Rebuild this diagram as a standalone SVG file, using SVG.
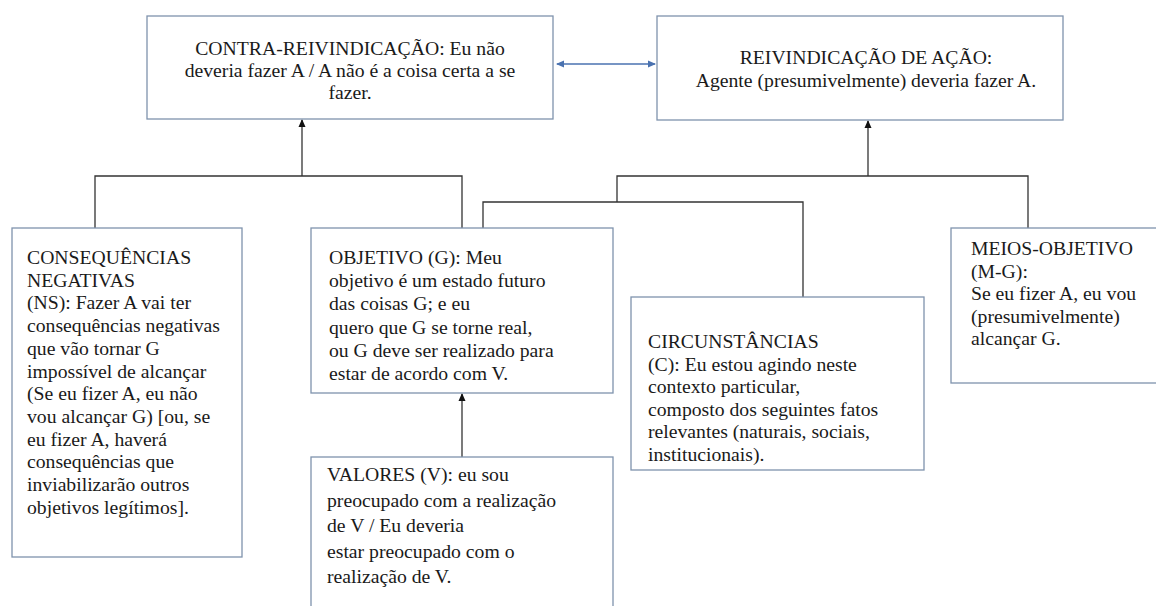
<svg xmlns="http://www.w3.org/2000/svg" width="1156" height="606" viewBox="0 0 1156 606">
<style>
.box{fill:#fff;stroke:#7f93ad;stroke-width:1.3}
.t{font-family:"Liberation Serif","Times New Roman",serif;font-size:19.7px;fill:#1a1a1a}
.c{text-anchor:middle}
.ln{fill:none;stroke:#333;stroke-width:1.3}
.bl{fill:none;stroke:#4a72b0;stroke-width:1.3}
</style>
<defs>
<marker id="ah" markerWidth="8" markerHeight="8" refX="7" refY="4" orient="auto" markerUnits="userSpaceOnUse"><path d="M0,0.5 L8,4 L0,7.5 Z" fill="#111"/></marker>
<marker id="bh" markerWidth="8" markerHeight="8" refX="7" refY="4" orient="auto-start-reverse" markerUnits="userSpaceOnUse"><path d="M0,0.5 L8,4 L0,7.5 Z" fill="#4a72b0"/></marker>
</defs>
<rect width="1156" height="606" fill="#fff"/>
<g id="connectors">
<path class="bl" d="M557,64 H655" marker-start="url(#bh)" marker-end="url(#bh)"/>
<path class="ln" d="M95,228 V176 H462 V228"/>
<path class="ln" d="M302,176 V120" marker-end="url(#ah)"/>
<path class="ln" d="M868,176 V121" marker-end="url(#ah)"/>
<path class="ln" d="M617,202 V176 H1028 V228"/>
<path class="ln" d="M483,228 V202 H803 V297"/>
<path class="ln" d="M462,457 V394" marker-end="url(#ah)"/>
</g>
<g id="contra">
<rect class="box" x="147" y="16" width="406" height="103"/>
<text class="t c" x="350" y="55">CONTRA-REIVINDICAÇÃO: Eu não</text>
<text class="t c" x="350" y="77">deveria fazer A / A não é a coisa certa a se</text>
<text class="t c" x="350" y="99">fazer.</text>
</g>
<g id="reivindicacao">
<rect class="box" x="657" y="16" width="406" height="104"/>
<text class="t c" x="866" y="64">REIVINDICAÇÃO DE AÇÃO:</text>
<text class="t c" x="866" y="87">Agente (presumivelmente) deveria fazer A.</text>
</g>
<g id="consequencias">
<rect class="box" x="12" y="228" width="230" height="329"/>
<text class="t" x="27" y="264">CONSEQUÊNCIAS</text>
<text class="t" x="27" y="286.7">NEGATIVAS</text>
<text class="t" x="27" y="309.4">(NS): Fazer A vai ter</text>
<text class="t" x="27" y="332.1">consequências negativas</text>
<text class="t" x="27" y="354.8">que vão tornar G</text>
<text class="t" x="27" y="377.5">impossível de alcançar</text>
<text class="t" x="27" y="400.2">(Se eu fizer A, eu não</text>
<text class="t" x="27" y="422.9">vou alcançar G) [ou, se</text>
<text class="t" x="27" y="445.6">eu fizer A, haverá</text>
<text class="t" x="27" y="468.3">consequências que</text>
<text class="t" x="27" y="491">inviabilizarão outros</text>
<text class="t" x="27" y="513.7">objetivos legítimos].</text>
</g>
<g id="objetivo">
<rect class="box" x="311" y="228" width="302" height="165"/>
<text class="t" x="329" y="264">OBJETIVO (G): Meu</text>
<text class="t" x="329" y="287.2">objetivo é um estado futuro</text>
<text class="t" x="329" y="310.4">das coisas G; e eu</text>
<text class="t" x="329" y="333.6">quero que G se torne real,</text>
<text class="t" x="329" y="356.8">ou G deve ser realizado para</text>
<text class="t" x="329" y="380">estar de acordo com V.</text>
</g>
<g id="valores">
<rect class="box" x="311" y="457" width="302" height="170"/>
<text class="t" x="327" y="481">VALORES (V): eu sou</text>
<text class="t" x="327" y="506.5">preocupado com a realização</text>
<text class="t" x="327" y="532">de V / Eu deveria</text>
<text class="t" x="327" y="557.5">estar preocupado com o</text>
<text class="t" x="327" y="583">realização de V.</text>
</g>
<g id="circunstancias">
<rect class="box" x="631" y="297" width="293" height="173"/>
<text class="t" x="648" y="348">CIRCUNSTÂNCIAS</text>
<text class="t" x="648" y="370.6">(C): Eu estou agindo neste</text>
<text class="t" x="648" y="393.2">contexto particular,</text>
<text class="t" x="648" y="415.8">composto dos seguintes fatos</text>
<text class="t" x="648" y="438.4">relevantes (naturais, sociais,</text>
<text class="t" x="648" y="461">institucionais).</text>
</g>
<g id="meios">
<rect class="box" x="951" y="228" width="220" height="155"/>
<text class="t" x="971" y="255">MEIOS-OBJETIVO</text>
<text class="t" x="971" y="277.6">(M-G):</text>
<text class="t" x="971" y="300.2">Se eu fizer A, eu vou</text>
<text class="t" x="971" y="322.8">(presumivelmente)</text>
<text class="t" x="971" y="345.4">alcançar G.</text>
</g>
</svg>
